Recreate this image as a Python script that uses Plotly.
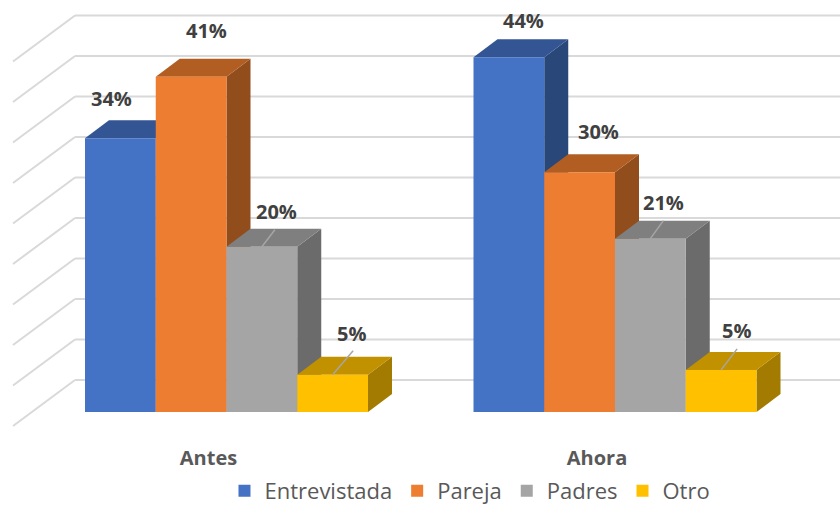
import plotly.graph_objects as go

categories = ["Antes", "Ahora"]
entrevistada = [33.8, 43.8]
pareja = [41.4, 29.6]
padres = [20.4, 21.4]
otro = [4.6, 5.2]
value_labels = [["34%", "41%", "20%", "5%"], ["44%", "30%", "21%", "5%"]]
series_names = ["Entrevistada", "Pareja", "Padres", "Otro"]
grid_levels = [0, 5, 10, 15, 20, 25, 30, 35, 40, 45]

series_values = [entrevistada, pareja, padres, otro]
front = ["#4472C4", "#ED7D31", "#A5A5A5", "#FFC000"]
top_c = ["#335593", "#B25E22", "#7F7F7F", "#C19100"]
side_c = ["#294778", "#914D1C", "#6B6B6B", "#A37B00"]

W, H = 840, 530  # the window shows the top 506 px; the extra room keeps the legend box unclipped
PLOT_BOTTOM = 440
BASE_PX = 412
PX_X = 388.5   # pixels per category step
PX_Y = 8.1     # pixels per percent
X0_PX = 226.5  # pixel centre of first category


def dx(px):
    return px / PX_X


def dy(px):
    return px / PX_Y


xr = [-X0_PX / PX_X, (W - X0_PX) / PX_X]
yr = [(BASE_PX - PLOT_BOTTOM) / PX_Y, BASE_PX / PX_Y]
bar_w = dx(70.75)
group_w = 4 * bar_w
depth_x, depth_y = dx(24), dy(18)


def poly(pts, fill):
    path = "M " + " L ".join(f"{x:.5f},{y:.4f}" for x, y in pts) + " Z"
    return dict(type="path", path=path, xref="x", yref="y", layer="below",
                fillcolor=fill, line=dict(width=0))


shapes = []
# wall grid: back wall lines and left wall diagonals
wall_left = dx(75 - X0_PX)
front_left = dx(13 - X0_PX)
back_shift = dy(BASE_PX - 380)
front_shift = dy(BASE_PX - 426)
grid_line = dict(color="#D9D9D9", width=2)
for lv in grid_levels:
    shapes.append(dict(type="line", xref="x", yref="y", layer="below",
                       x0=wall_left, x1=xr[1], y0=lv + back_shift, y1=lv + back_shift,
                       line=grid_line))
    shapes.append(dict(type="line", xref="x", yref="y", layer="below",
                       x0=wall_left, x1=front_left, y0=lv + back_shift, y1=lv + front_shift,
                       line=grid_line))

# side and top faces, painted left to right; the front faces are real bars
for c in range(len(categories)):
    for s, vals in enumerate(series_values):
        v = vals[c]
        l = c - group_w / 2 + s * bar_w
        r = l + bar_w
        shapes.append(poly([(r, 0), (r + depth_x, depth_y), (r + depth_x, v + depth_y), (r, v)], side_c[s]))
        shapes.append(poly([(l, v), (l + depth_x, v + depth_y), (r + depth_x, v + depth_y), (r, v)], top_c[s]))

fig = go.Figure()
for s, name in enumerate(series_names):
    fig.add_trace(go.Bar(x=[0, 1], y=series_values[s], name=name,
                         marker=dict(color=front[s], line=dict(width=0))))

# label offsets (pixels from top-centre of the front face)
label_off = [[(-9, 40), (15, 46), (15, 35), (19, 41)],
             [(15, 37), (19, 41), (13, 36), (15, 39)]]
# leader lines (pixel end offsets)
leaders = {(0, 2): (13, 17), (0, 3): (20.5, 24), (1, 2): (13, 18), (1, 3): (16, 21)}

annotations = []
for c in range(len(categories)):
    for s, vals in enumerate(series_values):
        v = vals[c]
        cx = c - group_w / 2 + (s + 0.5) * bar_w
        ox, oy = label_off[c][s]
        annotations.append(dict(x=cx, y=v, xref="x", yref="y", text=value_labels[c][s],
                                showarrow=False, xshift=ox, yshift=oy,
                                xanchor="center", yanchor="middle",
                                font=dict(family="Open Sans", size=20, color="#404040", weight="bold")))
        if (c, s) in leaders:
            lx, ly = leaders[(c, s)]
            shapes.append(dict(type="line", xref="x", yref="y", layer="above",
                               x0=cx, y0=v, x1=cx + dx(lx), y1=v + dy(ly),
                               line=dict(color="#A6A6A6", width=1.5)))

tick_shift = dx(18)
fig.update_layout(
    width=W, height=H, margin=dict(l=0, r=0, t=0, b=H - PLOT_BOTTOM),
    paper_bgcolor="white", plot_bgcolor="white",
    barmode="group", bargap=1 - group_w, bargroupgap=0,
    shapes=shapes, annotations=annotations,
    xaxis=dict(range=xr, tickvals=[i - tick_shift for i in range(len(categories))],
               ticktext=categories, showgrid=False,
               zeroline=False, showline=False, ticks="", automargin=False, ticklabelstandoff=4,
               tickfont=dict(family="Open Sans", size=20, color="#595959", weight="bold")),
    yaxis=dict(range=yr, visible=False, showgrid=False, zeroline=False),
    legend=dict(orientation="h", x=0.5595, xanchor="center", y=(H - 470) / H, yanchor="top",
                yref="container", font=dict(family="Open Sans", size=22, color="#595959"),
                traceorder="normal"),
    showlegend=True,
)
fig.write_html("out.html", config=dict(displayModeBar=False),
               post_script="document.body.style.margin='0';document.body.style.overflow='hidden';")
